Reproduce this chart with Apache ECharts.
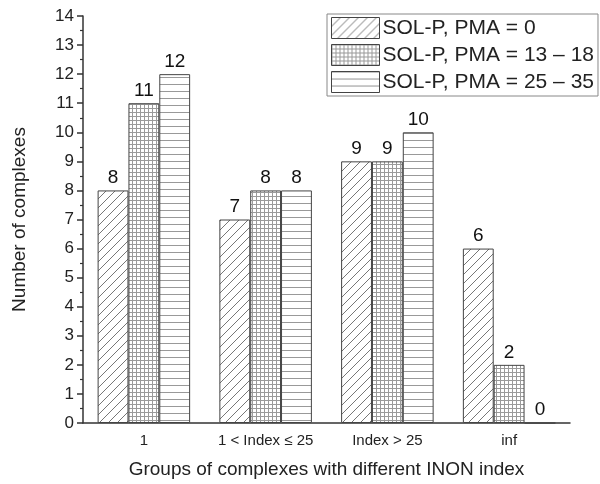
<!DOCTYPE html>
<html><head><meta charset="utf-8">
<script src="https://cdn.jsdelivr.net/npm/echarts@6/dist/echarts.min.js"></script>
<style>html,body{margin:0;padding:0;background:#fff}#c{width:600px;height:484px}</style>
</head><body><div id="c"></div>
<script>
const categories = ['1', '1 < Index \u2264 25', 'Index > 25', 'inf'];
const seriesNames = ['SOL-P, PMA = 0', 'SOL-P, PMA = 13 \u2013 18', 'SOL-P, PMA = 25 \u2013 35'];
const valuesPMA0 = [8, 7, 9, 6];
const valuesPMA13 = [11, 8, 9, 2];
const valuesPMA25 = [12, 8, 10, 0];

function makePattern(kind) {
  const c = document.createElement('canvas');
  if (kind === 'diag') { c.width = 9; c.height = 9; }
  else if (kind === 'grid') { c.width = 4; c.height = 4; }
  else { c.width = 4; c.height = 7; }
  const ctx = c.getContext('2d');
  ctx.fillStyle = '#fff';
  ctx.fillRect(0, 0, c.width, c.height);
  if (kind === 'diag') {
    const s = 9;
    ctx.strokeStyle = '#777'; ctx.lineWidth = 1;
    ctx.beginPath();
    ctx.moveTo(-1, s + 1); ctx.lineTo(s + 1, -1);
    ctx.moveTo(-1, 1); ctx.lineTo(1, -1);
    ctx.moveTo(s - 1, s + 1); ctx.lineTo(s + 1, s - 1);
    ctx.stroke();
  } else if (kind === 'grid') {
    ctx.fillStyle = '#9a9a9a';
    ctx.fillRect(0, 0, 4, 1);
    ctx.fillRect(0, 0, 1, 4);
  } else {
    ctx.fillStyle = '#999';
    ctx.fillRect(0, 0, 4, 1);
  }
  return { image: c, repeat: 'repeat' };
}

const patterns = [makePattern('diag'), makePattern('grid'), makePattern('horiz')];
const dataSets = [valuesPMA0, valuesPMA13, valuesPMA25];
const font = 'Liberation Sans, Arial, sans-serif';

const chart = echarts.init(document.getElementById('c'), null, { renderer: 'canvas' });
chart.setOption({
  backgroundColor: '#fff',
  animation: false,
  textStyle: { fontFamily: font },
  grid: { left: 83, right: 30, top: 16, bottom: 61 },
  legend: {
    orient: 'vertical', left: 327, top: 14,
    icon: 'rect',
    itemWidth: 48, itemHeight: 21, itemGap: 5,
    padding: [3, 4, 3, 4],
    borderColor: '#888', borderWidth: 1, backgroundColor: '#fff', borderRadius: 0,
    textStyle: { fontSize: 21, color: '#222', fontFamily: font, padding: [0, 0, 0, -2] },
    itemStyle: { borderColor: '#444', borderWidth: 1 },
    data: seriesNames,
    selectedMode: false
  },
  xAxis: [{
    type: 'category', data: categories, position: 'bottom',
    name: 'Groups of complexes with different INON index',
    nameLocation: 'middle', nameGap: 37,
    nameTextStyle: { fontSize: 19, color: '#222', fontFamily: font },
    axisLine: { lineStyle: { color: '#333', width: 1.5 } },
    axisTick: { alignWithLabel: true, length: 6, lineStyle: { color: '#333', width: 1.5 } },
    axisLabel: { fontSize: 15, color: '#222', margin: 10, fontFamily: font, interval: 0, hideOverlap: false }
  }, {
    type: 'category', data: categories, position: 'bottom',
    axisLine: { show: false },
    axisTick: { length: 4, interval: 0, lineStyle: { color: '#333', width: 1.2 } },
    axisLabel: { show: false }
  }],
  yAxis: {
    type: 'value', min: 0, max: 14, interval: 1,
    name: 'Number of complexes', nameLocation: 'middle', nameGap: 54,
    nameTextStyle: { fontSize: 19, color: '#222', fontFamily: font },
    axisLine: { show: true, lineStyle: { color: '#333', width: 1.5 } },
    axisTick: { show: true, length: 6, lineStyle: { color: '#333', width: 1.5 } },
    minorTick: { show: true, splitNumber: 2, length: 3, lineStyle: { color: '#333', width: 1.2 } },
    splitLine: { show: false },
    axisLabel: { fontSize: 17, color: '#222', margin: 9, fontFamily: font }
  },
  series: dataSets.map((d, i) => ({
    name: seriesNames[i], type: 'bar', xAxisIndex: 0, data: d,
    barGap: '0%', barCategoryGap: '24%',
    itemStyle: { color: patterns[i], borderColor: '#444', borderWidth: 1 },
    label: { show: true, position: 'top', fontSize: 19, color: '#111', distance: 3, fontFamily: font }
  }))
});
</script></body></html>
